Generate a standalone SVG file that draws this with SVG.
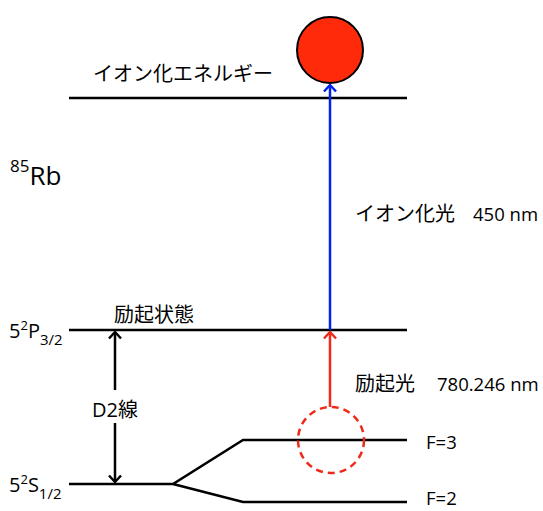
<svg xmlns="http://www.w3.org/2000/svg" width="543" height="511" viewBox="0 0 543 511">
<style>
.lv{stroke:#000;stroke-width:2.5;fill:none}
.t{font-family:"Open Sans","Noto Sans CJK JP",sans-serif;font-size:18.5px;fill:#000}
.j{font-family:"Noto Sans CJK JP",sans-serif;font-size:20px;fill:#000}
.sup{font-size:13px}
.sub{font-size:15px}
</style>
<defs>
<marker id="hb" markerUnits="userSpaceOnUse" markerWidth="16" markerHeight="16" refX="14" refY="8" orient="auto" viewBox="0 0 16 16">
<path d="M7.5,2 L14,8 L7.5,14" fill="none" stroke="#0022ee" stroke-width="2.5"/>
</marker>
<marker id="hr" markerUnits="userSpaceOnUse" markerWidth="16" markerHeight="16" refX="14" refY="8" orient="auto" viewBox="0 0 16 16">
<path d="M7.5,2 L14,8 L7.5,14" fill="none" stroke="#ee2a1a" stroke-width="2.5"/>
</marker>
<marker id="hk" markerUnits="userSpaceOnUse" markerWidth="16" markerHeight="16" refX="14" refY="8" orient="auto" viewBox="0 0 16 16">
<path d="M7.5,2 L14,8 L7.5,14" fill="none" stroke="#000" stroke-width="2.5"/>
</marker>
</defs>
<g id="title"><text x="10" y="185" class="t" style="font-size:26px"><tspan dy="-13" style="font-size:17px">85</tspan><tspan dy="13">Rb</tspan></text></g>
<g id="ionization-level">
<line class="lv" x1="69" y1="98" x2="407" y2="98"/>
<text x="93" y="81" class="j">イオン化エネルギー</text>
</g>
<g id="ion"><circle cx="330" cy="50" r="33" fill="#ff2a0a" stroke="#000" stroke-width="2"/></g>
<g id="excited-level">
<line class="lv" x1="69" y1="330" x2="407" y2="330"/>
<text x="114" y="322" class="j">励起状態</text>
<text x="9" y="338" class="t" style="font-size:20px">5<tspan class="sup" dy="-8">2</tspan><tspan dy="8">P</tspan><tspan class="sub" dy="7">3/2</tspan></text>
</g>
<g id="ground-level">
<polyline class="lv" points="69,484 173,484 243,440 407,440"/>
<polyline class="lv" points="173,484 243,502 407,502"/>
<text x="9" y="492" class="t" style="font-size:20px">5<tspan class="sup" dy="-8">2</tspan><tspan dy="8">S</tspan><tspan class="sub" dy="7">1/2</tspan></text>
<text x="426" y="449" class="t">F=3</text>
<text x="426" y="505" class="t">F=2</text>
</g>
<g id="excitation-spot"><circle cx="331" cy="440" r="33" fill="none" stroke="#ee2a1a" stroke-width="2.5" stroke-dasharray="7,5"/></g>
<g id="connectors">
<line x1="330" y1="330" x2="330" y2="85" stroke="#0022ee" stroke-width="2.5" marker-end="url(#hb)"/>
<line x1="330" y1="407" x2="330" y2="332" stroke="#ee2a1a" stroke-width="2.5" marker-end="url(#hr)"/>
<line x1="115" y1="390" x2="115" y2="332" stroke="#000" stroke-width="2.5" marker-end="url(#hk)"/>
<line x1="115" y1="423" x2="115" y2="482" stroke="#000" stroke-width="2.5" marker-end="url(#hk)"/>
</g>
<g id="labels">
<text x="92" y="417" class="t" style="font-size:20px">D2線</text>
<text x="355" y="221" class="j">イオン化光</text>
<text x="473" y="221" class="t">450 nm</text>
<text x="355" y="391" class="j">励起光</text>
<text x="437" y="391" class="t">780.246 nm</text>
</g>
</svg>
